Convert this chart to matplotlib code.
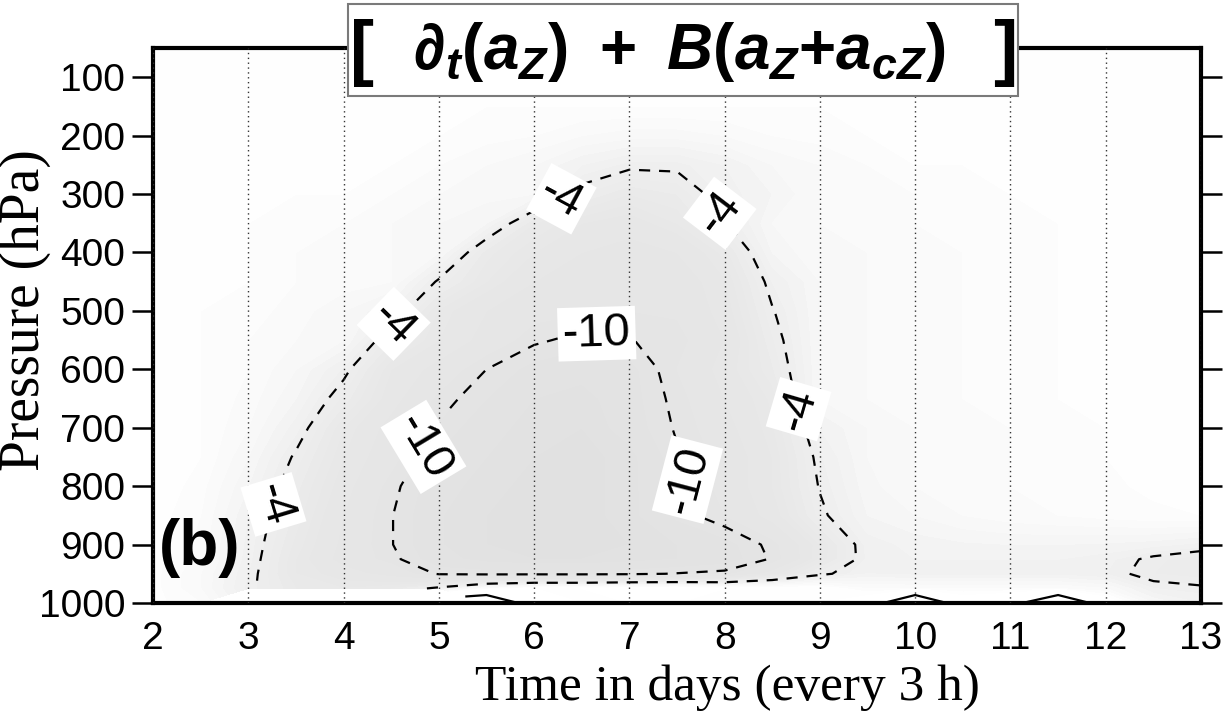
import numpy as np
import matplotlib
matplotlib.use("Agg")
import matplotlib.pyplot as plt
from matplotlib.colors import LinearSegmentedColormap
from matplotlib.patches import Rectangle

nan = np.nan

# ---------------- data ----------------
days = [2.0, 2.5, 3.0, 3.5, 4.0, 4.5, 5.0, 5.5, 6.0, 6.5, 7.0, 7.5,
        8.0, 8.5, 9.0, 9.5, 10.0, 10.5, 11.0, 11.5, 12.0, 12.5, 13.0]

pressure = [50, 100, 150, 200, 250, 300, 350, 400, 450, 500, 550, 600,
            650, 700, 750, 800, 850, 900, 925, 950, 975, 1000]

p050 = [0, 0, 0, 0, 0, 0, 0, 0, 0, 0, 0, 0, 0, 0, 0, 0, 0, 0, 0, 0, 0, 0, 0]
p100 = [0, 0, 0, 0, 0, 0, 0, 0, 0, 0, 0, 0, 0, 0, 0, 0, 0, 0, 0, 0, 0, 0, 0]
p150 = [0, 0, 0, 0, 0, 0, -0.3, -0.5, -0.5, -0.5, -0.5, -0.5, -0.5, -0.5, -0.5, -0.3, 0, 0, 0, 0, 0, 0, 0]
p200 = [0, 0, 0, 0, 0, -0.3, -0.5, -0.8, -1, -1.5, -1.8, -1.8, -1.5, -1, -0.8, -0.5, -0.3, 0, 0, 0, 0, 0, 0]
p250 = [0, 0, 0, 0, 0, -0.5, -1, -1.5, -2, -3, -3.7, -3.7, -3, -2, -1.5, -1, -0.5, -0.5, 0, 0, 0, 0, 0]
p300 = [0, 0, 0, -0.5, -0.5, -1, -1.5, -1.8, -2, -4.5, -5.5, -5, -3.3, -2.5, -1.5, -1, -1, -0.5, -0.5, 0, 0, 0, 0]
p350 = [0, 0, -0.5, -0.5, -1, -1.5, -2, -2.5, -5.5, -6.5, -7, -6, -4.1, -2, -1.5, -1, -1, -0.5, -0.5, -0.5, 0, 0, 0]
p400 = [0, -0.3, -0.5, -1, -1, -1.5, -2, -5.3, -6.5, -7.5, -8, -7.5, -5.8, -2.5, -1.5, -1.5, -1, -1, -0.5, -0.5, -0.3, 0, 0]
p450 = [0, -0.3, -0.5, -1, -1.2, -1.5, -4.2, -6, -7.5, -8.5, -9, -8.5, -6.6, -3.5, -2, -1.5, -1.2, -1, -0.8, -0.5, -0.3, 0, 0]
p500 = [0, -0.5, -0.8, -1.2, -2, -3, -6.1, -7.5, -8.5, -8.8, -9.0, -8.8, -7, -4.1, -2, -1.5, -1.2, -1, -0.8, -0.5, -0.3, -0.2, 0]
p550 = [0, -0.5, -1, -1.5, -2, -4.9, -6.5, -8, -9.7, -10.5, -10.06, -9.5, -7.5, -4.6, -2, -1.5, -1.2, -1, -0.8, -0.5, -0.3, -0.2, 0]
p600 = [0, -0.5, -1, -2, -3.6, -6.5, -8, -10, -11.5, -12, -11.5, -9, -7, -5.1, -2, -1.5, -1.2, -1, -0.8, -0.5, -0.3, -0.2, 0]
p650 = [0, -0.5, -1.2, -2.5, -4.7, -7, -9.3, -11, -12.5, -13, -11.6, -9.5, -7.5, -5.85, -2, -1.5, -1.2, -1, -0.8, -0.5, -0.3, -0.2, 0]
p700 = [0, -0.5, -1.5, -3.3, -6, -8, -10.2, -12, -13, -13.5, -11.8, -9.8, -8, -6.1, -3, -2, -1.5, -1.2, -1, -0.7, -0.5, -0.3, 0]
p750 = [0, -0.5, -2, -4.2, -6.5, -8.5, -11.2, -12.5, -13.5, -14, -13, -10.2, -8.5, -6.5, -3.6, -2, -1.5, -1.2, -1, -0.7, -0.5, -0.3, 0]
p800 = [0, -0.8, -2.5, -4.8, -7, -9.5, -12, -13, -14, -14, -13, -10.5, -8.5, -6.5, -3.9, -2.2, -1.5, -1.2, -1, -0.8, -0.6, -0.4, -0.2]
p850 = [-0.2, -1, -3, -5.2, -7.5, -9.9, -12.4, -13.5, -14, -14, -13, -10.7, -9, -7, -4.3, -2.5, -2, -1.5, -1.2, -1, -0.8, -0.6, -0.5]
p900 = [-0.3, -1.2, -3.2, -5.7, -7.8, -9.9, -12.4, -13.5, -14, -14, -13.5, -12.5, -11.6, -9.5, -6, -3.3, -2.8, -2.6, -2.5, -2.5, -2.6, -2.8, -3.2]
p925 = [-0.3, -1.2, -3.3, -6, -8, -9.5, -12, -13, -13.5, -13.5, -13, -12.5, -11.8, -9.8, -5.9, -3.4, -3, -3, -3, -3, -3.3, -4.3, -5]
p950 = [-0.3, -1.5, -3.5, -6, -7, -8, -10.2, -10.4, -10.4, -10.4, -10.3, -9.9, -9.5, -7, -4.35, -3, -3.2, -3.2, -3.2, -3.2, -3.5, -4.5, -4.8]
p975 = [-0.3, -1.5, -3.7, -5.5, -6, -5.5, -3.5, -1, 0, 0, 0.5, 0.5, 0, 0, 0, -1, -1, -1, -1, -1, -1.5, -3.5, -3.8]
p1000 = [-0.3, -1, nan, nan, nan, nan, nan, 10, 1, 0, 0, 0, 0, 0, 0, 1, 10, 1, 2, 10, 1, -2, -3]

contour_levels = [-10, -4, 4]
labelled_levels = [-10, -4]
ytick_values = [100, 200, 300, 400, 500, 600, 700, 800, 900, 1000]
xtick_values = [2, 3, 4, 5, 6, 7, 8, 9, 10, 11, 12, 13]

# label anchor points (days, hPa)
label_points = [(3.26, 831), (4.58, 531), (6.31, 317), (7.94, 334), (8.78, 668),
                (4.82, 731), (6.66, 536), (7.63, 788)]

field = np.ma.masked_invalid(np.array([p050, p100, p150, p200, p250, p300, p350, p400,
                                       p450, p500, p550, p600, p650, p700, p750, p800,
                                       p850, p900, p925, p950, p975, p1000]))

# ---------------- style ----------------
plt.rcParams['font.family'] = ['Liberation Sans', 'DejaVu Sans']
plt.rcParams['mathtext.fontset'] = 'custom'
plt.rcParams['mathtext.it'] = 'Liberation Sans:italic:bold'
plt.rcParams['mathtext.rm'] = 'Liberation Sans:bold'
plt.rcParams['mathtext.bf'] = 'Liberation Sans:bold'
plt.rcParams['lines.dashed_pattern'] = [5.0, 4.0]

W, H = 1227, 717
fig = plt.figure(figsize=(W / 100, H / 100), dpi=100)
ax = fig.add_axes([153 / W, 1 - 603 / H, (1201 - 153) / W, (603 - 48) / H])

cmap = LinearSegmentedColormap.from_list(
    'g', [(0.0, '#e1e1e1'), (0.57, '#e8e8e8'), (0.714, '#eeeeee'),
          (0.93, '#fbfbfb'), (1.0, '#ffffff')])
ax.contourf(days, pressure, field, levels=np.arange(-15, 11, 0.5), cmap=cmap,
            vmin=-14, vmax=0)

cs = ax.contour(days, pressure, field, levels=contour_levels, colors='black',
                linewidths=1.6, linestyles=['--', '--', '-'])
labels = ax.clabel(cs, levels=labelled_levels, inline=True, fmt='%d', fontsize=34,
                   manual=label_points, inline_spacing=6)
for t in labels:
    t.set_bbox(dict(boxstyle='square,pad=0.1', fc='white', ec='none'))

ax.set_xlim(2, 13)
ax.set_ylim(1000, 50)
ax.set_xticks(xtick_values)
ax.set_yticks(ytick_values)
ax.set_yticklabels([str(v) for v in ytick_values])
ax.grid(axis='x', linestyle=(0, (1, 2.5)), color='#333333', linewidth=1.0)
ax.grid(axis='y', visible=False)
ax.set_axisbelow(False)

ax.tick_params(axis='y', direction='out', length=15, width=1.8, labelsize=28,
               pad=5, right=True, left=True, labelright=False)
ax.tick_params(axis='x', length=0, pad=13, labelsize=28)
for s in ax.spines.values():
    s.set_linewidth(3)

ax.text(0.006, 0.10, '(b)', transform=ax.transAxes, fontsize=46, fontweight='bold',
        ha='left', va='center')

# title box
fig.add_artist(Rectangle((348 / W, 1 - 96 / H), 670 / W, 92 / H, transform=fig.transFigure,
                         facecolor='white', edgecolor='#7a7a7a', linewidth=1.5, zorder=10))
fig.text(362 / W, 1 - 53 / H, '[', fontsize=52, fontweight='bold', ha='center',
         va='center', zorder=11)
fig.text(1005 / W, 1 - 53 / H, ']', fontsize=52, fontweight='bold', ha='center',
         va='center', zorder=11)
fig.text(679 / W, 1 - 52 / H, r'$\partial_t(a_Z)\ +\ B(a_Z{+}a_{cZ})$', fontsize=46,
         ha='center', va='center', zorder=11)

fig.text(25 / W, 1 - 310 / H, 'Pressure (hPa)', rotation=90, family='Liberation Serif',
         fontsize=40, ha='center', va='center')
fig.text(727 / W, 1 - 688 / H, 'Time in days (every 3 h)', family='Liberation Serif',
         fontsize=37, ha='center', va='center')

fig.savefig('out.png', dpi=100)
